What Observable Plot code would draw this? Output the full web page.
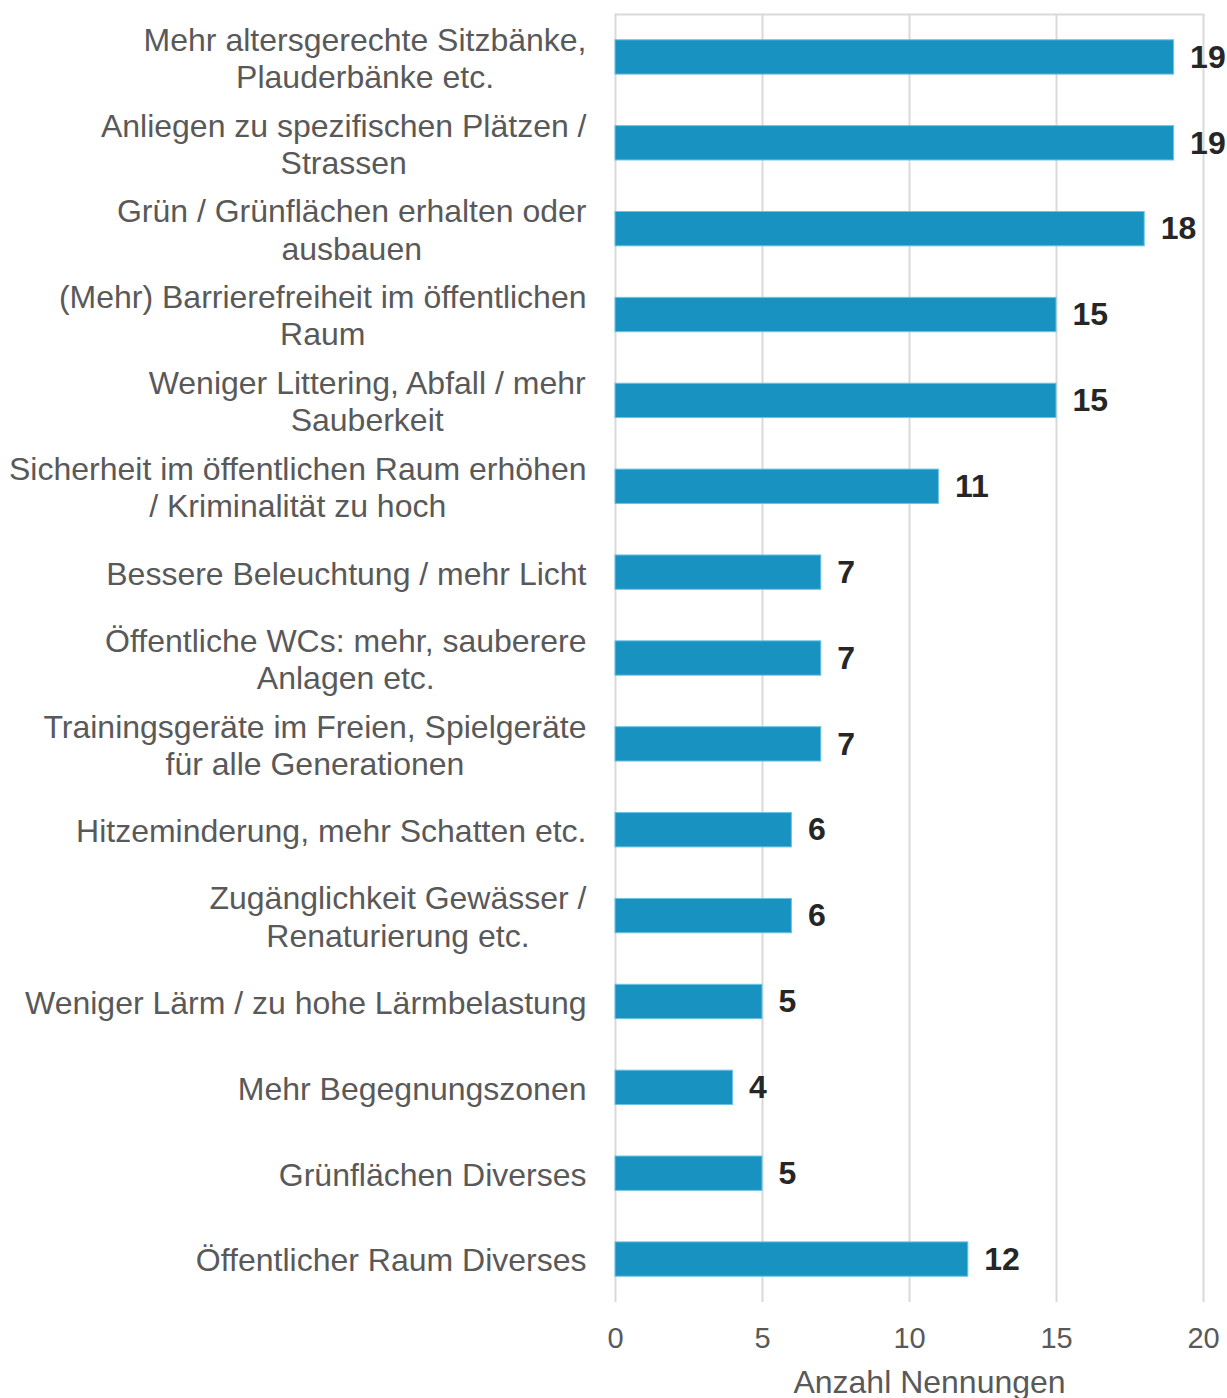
<!DOCTYPE html>
<html>
<head>
<meta charset="utf-8">
<script src="https://cdn.jsdelivr.net/npm/d3@7"></script>
<script src="https://cdn.jsdelivr.net/npm/@observablehq/plot@0.6"></script>
<style>
  html, body { margin: 0; padding: 0; background: #fff; }
  #chart svg { display: block; font-family: "Liberation Sans", Arial, sans-serif; }
</style>
</head>
<body>
<div id="chart"></div>
<script>
const categories = [
  "Mehr altersgerechte Sitzbänke,\nPlauderbänke etc.",
  "Anliegen zu spezifischen Plätzen /\nStrassen",
  "Grün / Grünflächen erhalten oder\nausbauen",
  "(Mehr) Barrierefreiheit im öffentlichen\nRaum",
  "Weniger Littering, Abfall / mehr\nSauberkeit",
  "Sicherheit im öffentlichen Raum erhöhen\n/ Kriminalität zu hoch",
  "Bessere Beleuchtung / mehr Licht",
  "Öffentliche WCs: mehr, sauberere\nAnlagen etc.",
  "Trainingsgeräte im Freien, Spielgeräte\nfür alle Generationen",
  "Hitzeminderung, mehr Schatten etc.",
  "Zugänglichkeit Gewässer /\nRenaturierung etc.",
  "Weniger Lärm / zu hohe Lärmbelastung",
  "Mehr Begegnungszonen",
  "Grünflächen Diverses",
  "Öffentlicher Raum Diverses"
];
const values = [19, 19, 18, 15, 15, 11, 7, 7, 7, 6, 6, 5, 4, 5, 12];
const xTicks = [0, 5, 10, 15, 20];
const axisTitle = "Anzahl Nennungen";

const data = categories.map((c, i) => ({cat: c, value: values[i]}));

const FONT = '"Liberation Sans", Arial, sans-serif';
const FS = 32;
const ctx = document.createElement("canvas").getContext("2d");
ctx.font = `${FS}px ${FONT}`;
const blockWidth = s => Math.max(...s.split("\n").map(l => ctx.measureText(l).width));

const labelGap = 29;
const labelMarks = data.map(d => Plot.text([d], {
  y: "cat",
  text: "cat",
  frameAnchor: "left",
  textAnchor: "middle",
  lineAnchor: "middle",
  lineHeight: 1.16,
  dx: -(labelGap + blockWidth(d.cat) / 2),
  fontSize: FS,
  fill: "#595959"
}));

const chart = Plot.plot({
  width: 1227,
  height: 1398,
  marginLeft: 615,
  marginRight: 24,
  marginTop: 14,
  marginBottom: 96,
  style: {fontFamily: FONT, background: "#fff", overflow: "visible"},
  x: {domain: [0, 20]},
  y: {domain: categories, paddingInner: 0.6, paddingOuter: 0.3, round: false, axis: null},
  marks: [
    Plot.gridX(xTicks, {stroke: "#d9d9d9", strokeOpacity: 1, strokeWidth: 2}),
    Plot.frame({anchor: "top", stroke: "#d9d9d9", strokeWidth: 2}),
    Plot.barX(data, {x: "value", y: "cat", fill: "#1892c0", stroke: "#6cc3e3", strokeWidth: 1}),
    Plot.text(data, {x: "value", y: "cat", text: d => String(d.value), textAnchor: "start", dx: 16, fontSize: 32, fontWeight: "bold", fill: "#262626"}),
    Plot.axisX({ticks: xTicks, tickSize: 0, tickPadding: 25, fontSize: 29, fill: "#595959", label: null}),
    Plot.text([axisTitle], {frameAnchor: "bottom", lineAnchor: "middle", dy: 80, dx: 20, fontSize: 32, fill: "#595959"}),
    ...labelMarks
  ]
});
document.getElementById("chart").appendChild(chart);
</script>
</body>
</html>
